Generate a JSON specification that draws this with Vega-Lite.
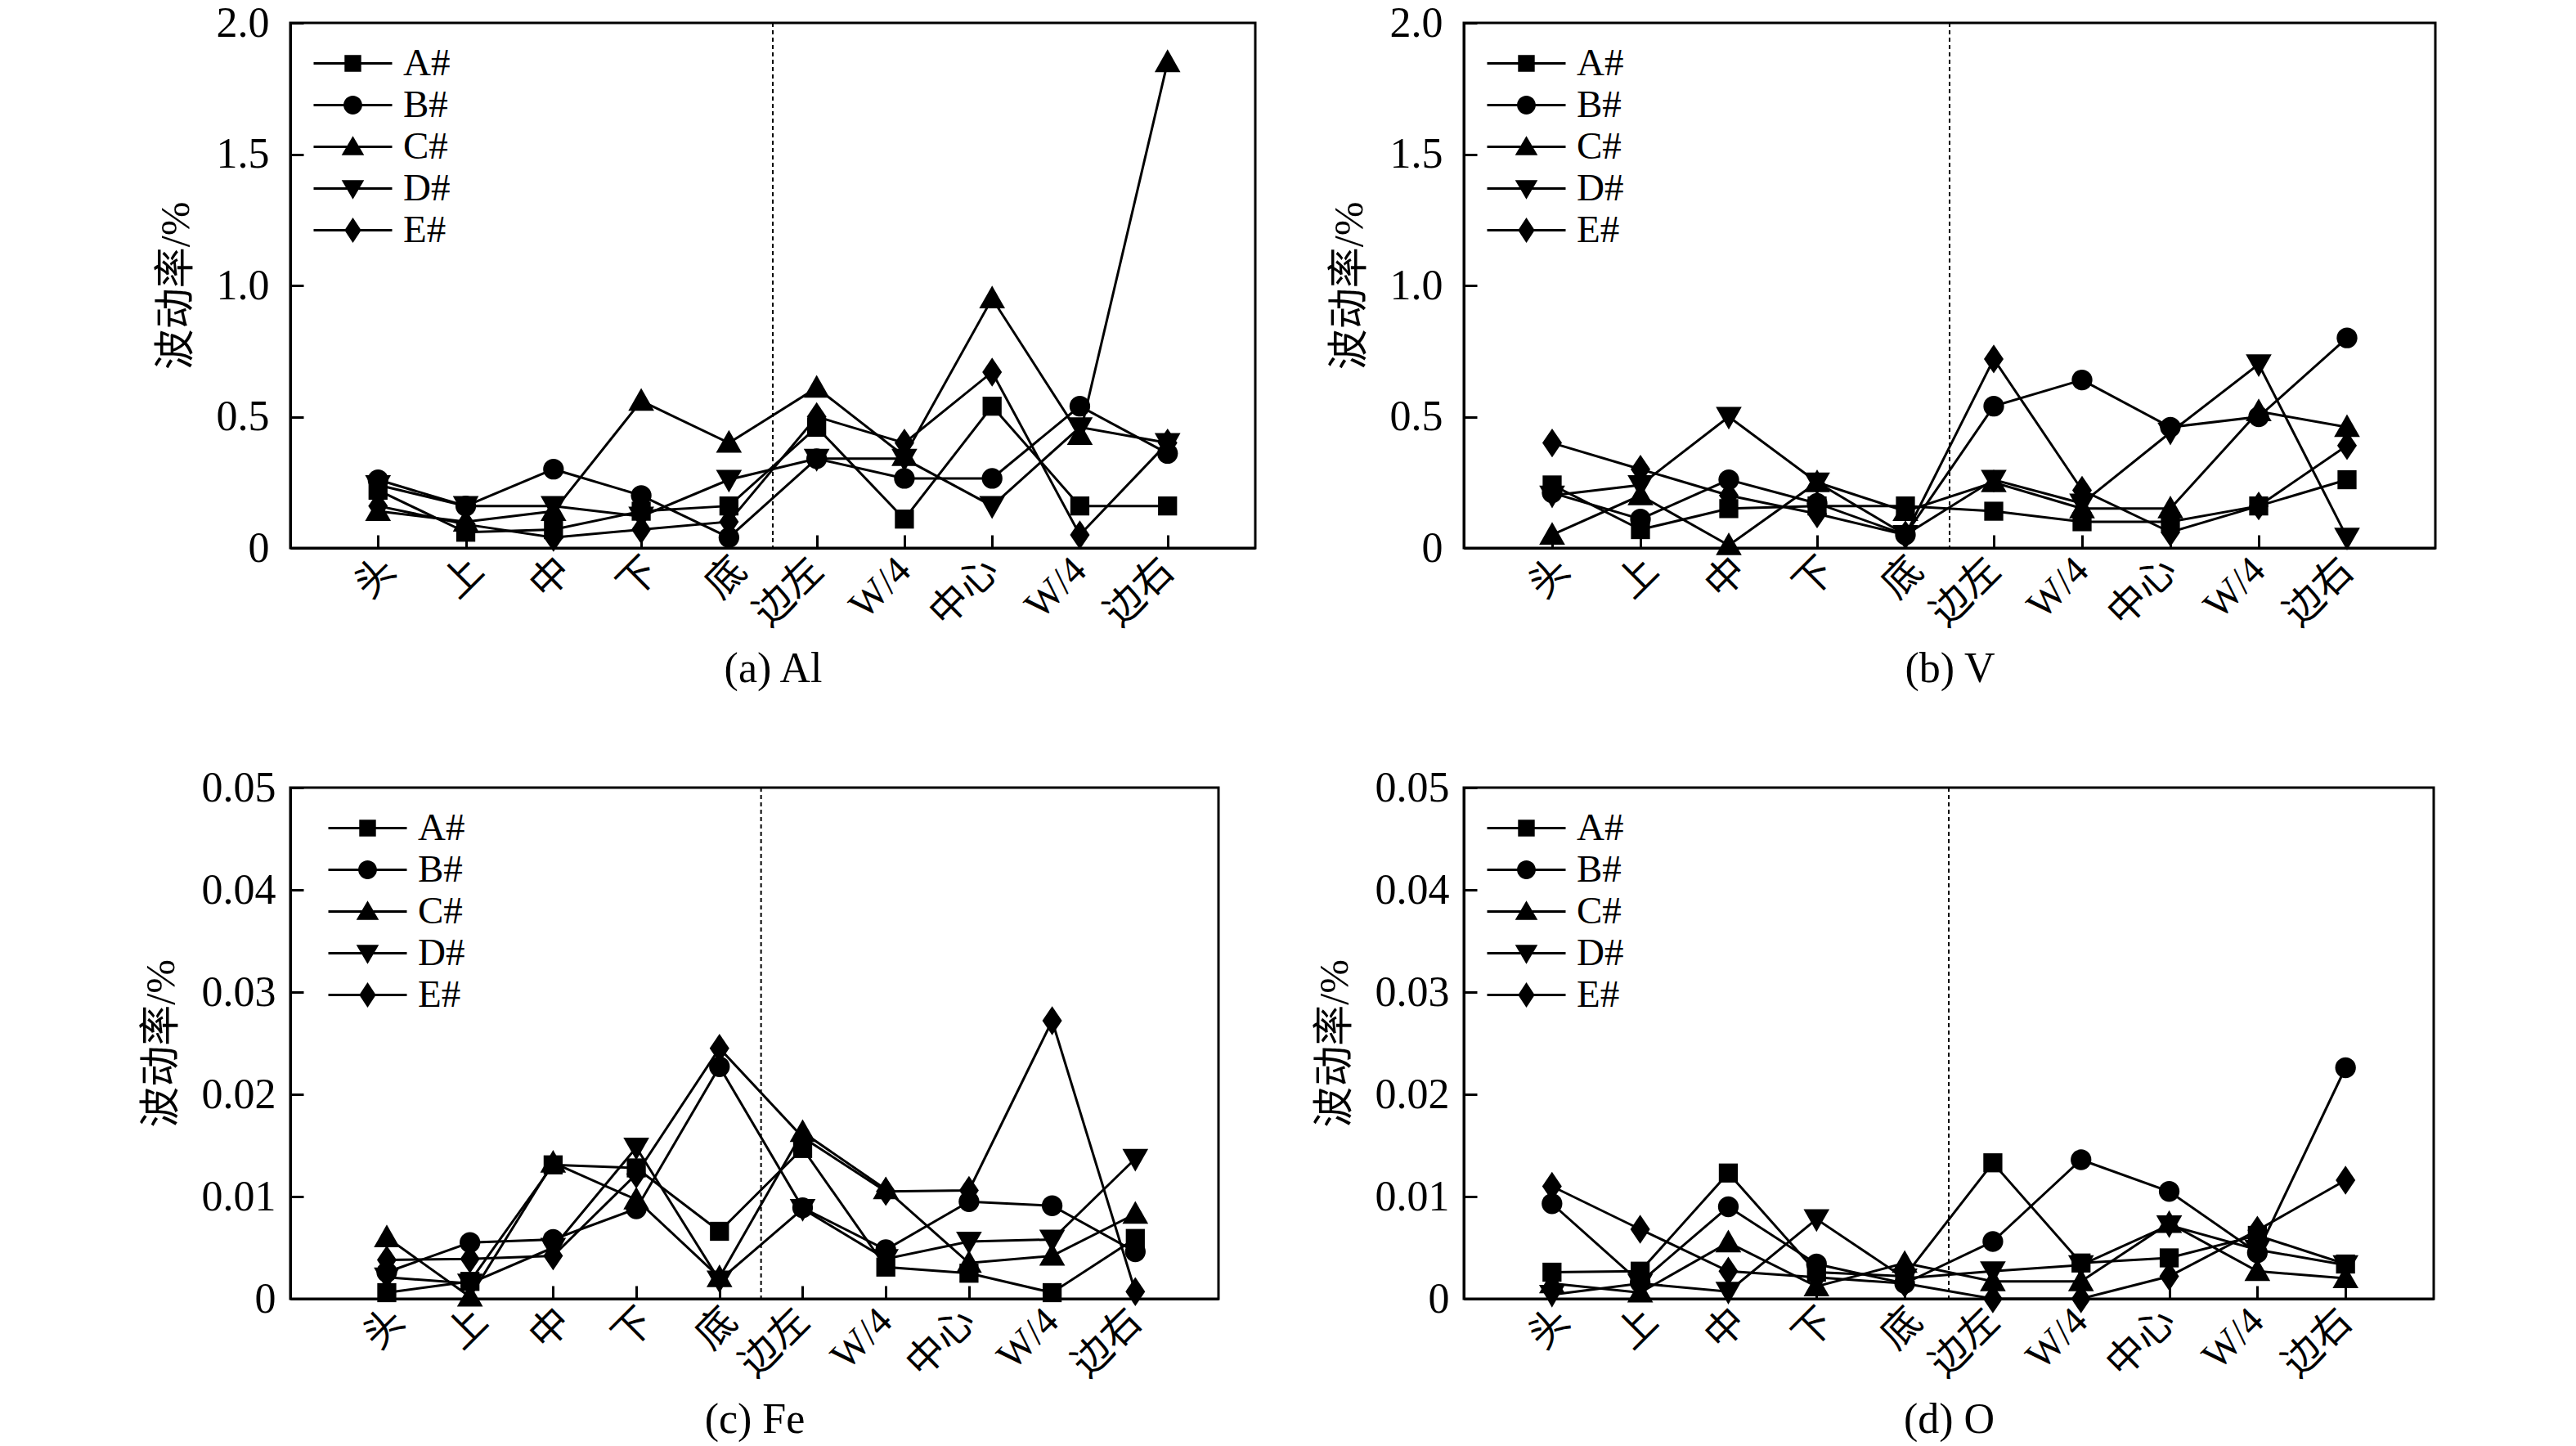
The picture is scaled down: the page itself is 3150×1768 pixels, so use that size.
{
  "$schema": "https://vega.github.io/schema/vega-lite/v6.json",
  "background": "white",
  "padding": {"left": 170, "top": 0, "right": 0, "bottom": 0},
  "datasets": {
    "divider": [{"i": 5.5}],
    "rates": [
      {"p":"a","s":"A#","i":1,"v":0.22},{"p":"a","s":"A#","i":2,"v":0.06},{"p":"a","s":"A#","i":3,"v":0.07},{"p":"a","s":"A#","i":4,"v":0.14},{"p":"a","s":"A#","i":5,"v":0.16},
      {"p":"a","s":"A#","i":6,"v":0.46},{"p":"a","s":"A#","i":7,"v":0.11},{"p":"a","s":"A#","i":8,"v":0.54},{"p":"a","s":"A#","i":9,"v":0.16},{"p":"a","s":"A#","i":10,"v":0.16},
      {"p":"a","s":"B#","i":1,"v":0.26},{"p":"a","s":"B#","i":2,"v":0.16},{"p":"a","s":"B#","i":3,"v":0.30},{"p":"a","s":"B#","i":4,"v":0.20},{"p":"a","s":"B#","i":5,"v":0.04},
      {"p":"a","s":"B#","i":6,"v":0.34},{"p":"a","s":"B#","i":7,"v":0.265},{"p":"a","s":"B#","i":8,"v":0.265},{"p":"a","s":"B#","i":9,"v":0.54},{"p":"a","s":"B#","i":10,"v":0.36},
      {"p":"a","s":"C#","i":1,"v":0.14},{"p":"a","s":"C#","i":2,"v":0.10},{"p":"a","s":"C#","i":3,"v":0.14},{"p":"a","s":"C#","i":4,"v":0.56},{"p":"a","s":"C#","i":5,"v":0.40},
      {"p":"a","s":"C#","i":6,"v":0.61},{"p":"a","s":"C#","i":7,"v":0.35},{"p":"a","s":"C#","i":8,"v":0.95},{"p":"a","s":"C#","i":9,"v":0.43},{"p":"a","s":"C#","i":10,"v":1.85},
      {"p":"a","s":"D#","i":1,"v":0.24},{"p":"a","s":"D#","i":2,"v":0.16},{"p":"a","s":"D#","i":3,"v":0.16},{"p":"a","s":"D#","i":4,"v":0.12},{"p":"a","s":"D#","i":5,"v":0.26},
      {"p":"a","s":"D#","i":6,"v":0.34},{"p":"a","s":"D#","i":7,"v":0.34},{"p":"a","s":"D#","i":8,"v":0.16},{"p":"a","s":"D#","i":9,"v":0.46},{"p":"a","s":"D#","i":10,"v":0.40},
      {"p":"a","s":"E#","i":1,"v":0.16},{"p":"a","s":"E#","i":2,"v":0.09},{"p":"a","s":"E#","i":3,"v":0.04},{"p":"a","s":"E#","i":4,"v":0.07},{"p":"a","s":"E#","i":5,"v":0.10},
      {"p":"a","s":"E#","i":6,"v":0.50},{"p":"a","s":"E#","i":7,"v":0.40},{"p":"a","s":"E#","i":8,"v":0.67},{"p":"a","s":"E#","i":9,"v":0.05},{"p":"a","s":"E#","i":10,"v":0.40},

      {"p":"b","s":"A#","i":1,"v":0.24},{"p":"b","s":"A#","i":2,"v":0.07},{"p":"b","s":"A#","i":3,"v":0.15},{"p":"b","s":"A#","i":4,"v":0.16},{"p":"b","s":"A#","i":5,"v":0.16},
      {"p":"b","s":"A#","i":6,"v":0.14},{"p":"b","s":"A#","i":7,"v":0.10},{"p":"b","s":"A#","i":8,"v":0.10},{"p":"b","s":"A#","i":9,"v":0.16},{"p":"b","s":"A#","i":10,"v":0.26},
      {"p":"b","s":"B#","i":1,"v":0.21},{"p":"b","s":"B#","i":2,"v":0.11},{"p":"b","s":"B#","i":3,"v":0.26},{"p":"b","s":"B#","i":4,"v":0.17},{"p":"b","s":"B#","i":5,"v":0.05},
      {"p":"b","s":"B#","i":6,"v":0.54},{"p":"b","s":"B#","i":7,"v":0.64},{"p":"b","s":"B#","i":8,"v":0.46},{"p":"b","s":"B#","i":9,"v":0.50},{"p":"b","s":"B#","i":10,"v":0.80},
      {"p":"b","s":"C#","i":1,"v":0.05},{"p":"b","s":"C#","i":2,"v":0.20},{"p":"b","s":"C#","i":3,"v":0.01},{"p":"b","s":"C#","i":4,"v":0.25},{"p":"b","s":"C#","i":5,"v":0.14},
      {"p":"b","s":"C#","i":6,"v":0.25},{"p":"b","s":"C#","i":7,"v":0.15},{"p":"b","s":"C#","i":8,"v":0.15},{"p":"b","s":"C#","i":9,"v":0.52},{"p":"b","s":"C#","i":10,"v":0.46},
      {"p":"b","s":"D#","i":1,"v":0.20},{"p":"b","s":"D#","i":2,"v":0.24},{"p":"b","s":"D#","i":3,"v":0.50},{"p":"b","s":"D#","i":4,"v":0.25},{"p":"b","s":"D#","i":5,"v":0.05},
      {"p":"b","s":"D#","i":6,"v":0.26},{"p":"b","s":"D#","i":7,"v":0.17},{"p":"b","s":"D#","i":8,"v":0.44},{"p":"b","s":"D#","i":9,"v":0.70},{"p":"b","s":"D#","i":10,"v":0.04},
      {"p":"b","s":"E#","i":1,"v":0.40},{"p":"b","s":"E#","i":2,"v":0.30},{"p":"b","s":"E#","i":3,"v":0.20},{"p":"b","s":"E#","i":4,"v":0.13},{"p":"b","s":"E#","i":5,"v":0.05},
      {"p":"b","s":"E#","i":6,"v":0.72},{"p":"b","s":"E#","i":7,"v":0.22},{"p":"b","s":"E#","i":8,"v":0.06},{"p":"b","s":"E#","i":9,"v":0.16},{"p":"b","s":"E#","i":10,"v":0.39},

      {"p":"c","s":"A#","i":1,"v":0.0006},{"p":"c","s":"A#","i":2,"v":0.0017},{"p":"c","s":"A#","i":3,"v":0.0131},{"p":"c","s":"A#","i":4,"v":0.0128},{"p":"c","s":"A#","i":5,"v":0.0066},
      {"p":"c","s":"A#","i":6,"v":0.0147},{"p":"c","s":"A#","i":7,"v":0.0031},{"p":"c","s":"A#","i":8,"v":0.0025},{"p":"c","s":"A#","i":9,"v":0.0006},{"p":"c","s":"A#","i":10,"v":0.0059},
      {"p":"c","s":"B#","i":1,"v":0.0026},{"p":"c","s":"B#","i":2,"v":0.0055},{"p":"c","s":"B#","i":3,"v":0.0058},{"p":"c","s":"B#","i":4,"v":0.0088},{"p":"c","s":"B#","i":5,"v":0.0227},
      {"p":"c","s":"B#","i":6,"v":0.0089},{"p":"c","s":"B#","i":7,"v":0.0048},{"p":"c","s":"B#","i":8,"v":0.0095},{"p":"c","s":"B#","i":9,"v":0.0091},{"p":"c","s":"B#","i":10,"v":0.0046},
      {"p":"c","s":"C#","i":1,"v":0.0060},{"p":"c","s":"C#","i":2,"v":0.0002},{"p":"c","s":"C#","i":3,"v":0.0133},{"p":"c","s":"C#","i":4,"v":0.0097},{"p":"c","s":"C#","i":5,"v":0.0021},
      {"p":"c","s":"C#","i":6,"v":0.0163},{"p":"c","s":"C#","i":7,"v":0.0107},{"p":"c","s":"C#","i":8,"v":0.0035},{"p":"c","s":"C#","i":9,"v":0.0042},{"p":"c","s":"C#","i":10,"v":0.0083},
      {"p":"c","s":"D#","i":1,"v":0.0021},{"p":"c","s":"D#","i":2,"v":0.0015},{"p":"c","s":"D#","i":3,"v":0.0050},{"p":"c","s":"D#","i":4,"v":0.0148},{"p":"c","s":"D#","i":5,"v":0.0018},
      {"p":"c","s":"D#","i":6,"v":0.0088},{"p":"c","s":"D#","i":7,"v":0.0039},{"p":"c","s":"D#","i":8,"v":0.0056},{"p":"c","s":"D#","i":9,"v":0.0058},{"p":"c","s":"D#","i":10,"v":0.0137},
      {"p":"c","s":"E#","i":1,"v":0.0038},{"p":"c","s":"E#","i":2,"v":0.0039},{"p":"c","s":"E#","i":3,"v":0.0042},{"p":"c","s":"E#","i":4,"v":0.0122},{"p":"c","s":"E#","i":5,"v":0.0245},
      {"p":"c","s":"E#","i":6,"v":0.0158},{"p":"c","s":"E#","i":7,"v":0.0105},{"p":"c","s":"E#","i":8,"v":0.0106},{"p":"c","s":"E#","i":9,"v":0.0272},{"p":"c","s":"E#","i":10,"v":0.0007},

      {"p":"d","s":"A#","i":1,"v":0.0026},{"p":"d","s":"A#","i":2,"v":0.0027},{"p":"d","s":"A#","i":3,"v":0.0123},{"p":"d","s":"A#","i":4,"v":0.0026},{"p":"d","s":"A#","i":5,"v":0.0022},
      {"p":"d","s":"A#","i":6,"v":0.0133},{"p":"d","s":"A#","i":7,"v":0.0035},{"p":"d","s":"A#","i":8,"v":0.0040},{"p":"d","s":"A#","i":9,"v":0.0062},{"p":"d","s":"A#","i":10,"v":0.0034},
      {"p":"d","s":"B#","i":1,"v":0.0093},{"p":"d","s":"B#","i":2,"v":0.0016},{"p":"d","s":"B#","i":3,"v":0.0090},{"p":"d","s":"B#","i":4,"v":0.0034},{"p":"d","s":"B#","i":5,"v":0.0015},
      {"p":"d","s":"B#","i":6,"v":0.0056},{"p":"d","s":"B#","i":7,"v":0.0136},{"p":"d","s":"B#","i":8,"v":0.0105},{"p":"d","s":"B#","i":9,"v":0.0045},{"p":"d","s":"B#","i":10,"v":0.0226},
      {"p":"d","s":"C#","i":1,"v":0.0015},{"p":"d","s":"C#","i":2,"v":0.0006},{"p":"d","s":"C#","i":3,"v":0.0055},{"p":"d","s":"C#","i":4,"v":0.0012},{"p":"d","s":"C#","i":5,"v":0.0035},
      {"p":"d","s":"C#","i":6,"v":0.0017},{"p":"d","s":"C#","i":7,"v":0.0017},{"p":"d","s":"C#","i":8,"v":0.0074},{"p":"d","s":"C#","i":9,"v":0.0027},{"p":"d","s":"C#","i":10,"v":0.0020},
      {"p":"d","s":"D#","i":1,"v":0.0004},{"p":"d","s":"D#","i":2,"v":0.0015},{"p":"d","s":"D#","i":3,"v":0.0007},{"p":"d","s":"D#","i":4,"v":0.0078},{"p":"d","s":"D#","i":5,"v":0.0020},
      {"p":"d","s":"D#","i":6,"v":0.0027},{"p":"d","s":"D#","i":7,"v":0.0033},{"p":"d","s":"D#","i":8,"v":0.0072},{"p":"d","s":"D#","i":9,"v":0.0048},{"p":"d","s":"D#","i":10,"v":0.0033},
      {"p":"d","s":"E#","i":1,"v":0.0110},{"p":"d","s":"E#","i":2,"v":0.0068},{"p":"d","s":"E#","i":3,"v":0.0027},{"p":"d","s":"E#","i":4,"v":0.0021},{"p":"d","s":"E#","i":5,"v":0.0015},
      {"p":"d","s":"E#","i":6,"v":0.0000},{"p":"d","s":"E#","i":7,"v":0.0000},{"p":"d","s":"E#","i":8,"v":0.0022},{"p":"d","s":"E#","i":9,"v":0.0067},{"p":"d","s":"E#","i":10,"v":0.0116}
    ]
  },
  "config": {
    "font": "Liberation Serif",
    "view": {"stroke": "black", "strokeWidth": 3},
    "axis": {
      "grid": false,
      "domainColor": "black",
      "domainWidth": 3,
      "tickColor": "black",
      "tickWidth": 3,
      "tickSize": -16,
      "labelFont": "Liberation Serif, Noto Sans CJK SC",
      "labelFontSize": 52,
      "labelColor": "black",
      "titleFont": "Liberation Serif, Noto Sans CJK SC",
      "titleFontSize": 52,
      "titleFontWeight": "normal",
      "titleColor": "black"
    },
    "axisX": {"labelAngle": -45, "labelAlign": "right", "labelBaseline": "middle", "labelPadding": 36, "labelFontSize": 48, "labelDx": 18, "titlePadding": 18, "labelFlush": false, "labelOverlap": false},
    "axisY": {"labelPadding": 42, "titlePadding": 24, "titleFontSize": 50},
    "legend": {
      "orient": "none",
      "title": null,
      "labelFont": "Liberation Serif",
      "labelFontSize": 47,
      "labelColor": "black",
      "symbolSize": 576,
      "symbolStrokeWidth": 0,
      "symbolFillColor": "black",
      "rowPadding": 3,
      "labelOffset": 38,
      "padding": 0
    }
  },
  "columns": 2,
  "bounds": "flush",
  "spacing": {"row": 293, "column": 255},
  "resolve": {"scale": {"shape": "independent"}, "legend": {"shape": "independent"}},
  "concat": [
    {
      "width": 1180,
      "height": 642,
      "encoding": {
        "x": {"field": "i", "type": "quantitative", "title": "(a) Al",
          "scale": {"domain": [0, 11], "nice": false},
          "axis": {"values": [1, 2, 3, 4, 5, 6, 7, 8, 9, 10], "labelOffset": {"condition": {"test": "datum.value <= 5", "value": 14}, "value": 0}, "labelExpr": "['', '头', '上', '中', '下', '底', '边左', 'W/4', '中心', 'W/4', '边右'][datum.value]"}}
      },
      "layer": [
        {"data": {"name": "divider"}, "mark": {"type": "rule", "color": "black", "strokeWidth": 2, "strokeDash": [5, 4]}, "encoding": {}},
        {"data": {"name": "rates"}, "transform": [{"filter": "datum.p == 'a'"}],
          "mark": {"type": "line", "color": "black", "strokeWidth": 3},
          "encoding": {
            "y": {"field": "v", "type": "quantitative", "title": "波动率/%", "scale": {"domain": [0, 2], "nice": false},
              "axis": {"values": [0, 0.5, 1, 1.5, 2], "labelExpr": "datum.value == 0 ? '0' : format(datum.value, '.1f')"}},
            "detail": {"field": "s"}}},
        {"data": {"name": "rates"}, "transform": [{"filter": "datum.p == 'a'"}],
          "mark": {"type": "point", "filled": true, "color": "black", "opacity": 1, "size": 640, "strokeWidth": 0},
          "encoding": {
            "y": {"field": "v", "type": "quantitative", "title": "波动率/%"},
            "shape": {"field": "s", "legend": null, "scale": {"domain": ["A#", "B#", "C#", "D#", "E#"], "range": [
              "M-0.92,-0.92H0.92V0.92H-0.92Z",
              "M1,0C1,0.552,0.552,1,0,1C-0.552,1,-1,0.552,-1,0C-1,-0.552,-0.552,-1,0,-1C0.552,-1,1,-0.552,1,0Z",
              "M0,-1.25L1.25,0.95L-1.25,0.95Z",
              "M0,1.25L1.25,-0.95L-1.25,-0.95Z",
              "M0,-1.4L0.95,0L0,1.4L-0.95,0Z"]}}}},
        {"data": {"name": "rates"}, "transform": [{"filter": "false"}],
          "mark": {"type": "point", "filled": true, "color": "black", "opacity": 1},
          "encoding": {
            "y": {"field": "v", "type": "quantitative", "title": "波动率/%"},
            "shape": {"field": "s", "scale": {"domain": ["A#", "B#", "C#", "D#", "E#"], "range": [
              "M-4,-0.12H4V0.12H-4ZM-0.85,-0.85H0.85V0.85H-0.85Z",
              "M-4,-0.12H4V0.12H-4ZM0.95,0C0.95,0.52,0.52,0.95,0,0.95C-0.52,0.95,-0.95,0.52,-0.95,0C-0.95,-0.52,-0.52,-0.95,0,-0.95C0.52,-0.95,0.95,-0.52,0.95,0Z",
              "M-4,-0.12H4V0.12H-4ZM0,-1.1L1.15,0.85L-1.15,0.85Z",
              "M-4,-0.12H4V0.12H-4ZM0,1.1L-1.15,-0.85L1.15,-0.85Z",
              "M-4,-0.12H4V0.12H-4ZM0,-1.3L0.85,0L0,1.3L-0.85,0Z"]},
              "legend": {"legendX": 53, "legendY": 26,
                "encode": {"symbols": {"update": {"fill": {"value": "black"}, "opacity": {"value": 1}}}}}}}}
      ],
      "resolve": {"scale": {"shape": "independent"}}
    },
    {
      "width": 1188,
      "height": 642,
      "encoding": {
        "x": {"field": "i", "type": "quantitative", "title": "(b) V",
          "scale": {"domain": [0, 11], "nice": false},
          "axis": {"values": [1, 2, 3, 4, 5, 6, 7, 8, 9, 10], "labelOffset": {"condition": {"test": "datum.value <= 5", "value": 14}, "value": 0}, "labelExpr": "['', '头', '上', '中', '下', '底', '边左', 'W/4', '中心', 'W/4', '边右'][datum.value]"}}
      },
      "layer": [
        {"data": {"name": "divider"}, "mark": {"type": "rule", "color": "black", "strokeWidth": 2, "strokeDash": [5, 4]}, "encoding": {}},
        {"data": {"name": "rates"}, "transform": [{"filter": "datum.p == 'b'"}],
          "mark": {"type": "line", "color": "black", "strokeWidth": 3},
          "encoding": {
            "y": {"field": "v", "type": "quantitative", "title": "波动率/%", "scale": {"domain": [0, 2], "nice": false},
              "axis": {"values": [0, 0.5, 1, 1.5, 2], "labelExpr": "datum.value == 0 ? '0' : format(datum.value, '.1f')"}},
            "detail": {"field": "s"}}},
        {"data": {"name": "rates"}, "transform": [{"filter": "datum.p == 'b'"}],
          "mark": {"type": "point", "filled": true, "color": "black", "opacity": 1, "size": 640, "strokeWidth": 0},
          "encoding": {
            "y": {"field": "v", "type": "quantitative", "title": "波动率/%"},
            "shape": {"field": "s", "legend": null, "scale": {"domain": ["A#", "B#", "C#", "D#", "E#"], "range": [
              "M-0.92,-0.92H0.92V0.92H-0.92Z",
              "M1,0C1,0.552,0.552,1,0,1C-0.552,1,-1,0.552,-1,0C-1,-0.552,-0.552,-1,0,-1C0.552,-1,1,-0.552,1,0Z",
              "M0,-1.25L1.25,0.95L-1.25,0.95Z",
              "M0,1.25L1.25,-0.95L-1.25,-0.95Z",
              "M0,-1.4L0.95,0L0,1.4L-0.95,0Z"]}}}},
        {"data": {"name": "rates"}, "transform": [{"filter": "false"}],
          "mark": {"type": "point", "filled": true, "color": "black", "opacity": 1},
          "encoding": {
            "y": {"field": "v", "type": "quantitative", "title": "波动率/%"},
            "shape": {"field": "s", "scale": {"domain": ["A#", "B#", "C#", "D#", "E#"], "range": [
              "M-4,-0.12H4V0.12H-4ZM-0.85,-0.85H0.85V0.85H-0.85Z",
              "M-4,-0.12H4V0.12H-4ZM0.95,0C0.95,0.52,0.52,0.95,0,0.95C-0.52,0.95,-0.95,0.52,-0.95,0C-0.95,-0.52,-0.52,-0.95,0,-0.95C0.52,-0.95,0.95,-0.52,0.95,0Z",
              "M-4,-0.12H4V0.12H-4ZM0,-1.1L1.15,0.85L-1.15,0.85Z",
              "M-4,-0.12H4V0.12H-4ZM0,1.1L-1.15,-0.85L1.15,-0.85Z",
              "M-4,-0.12H4V0.12H-4ZM0,-1.3L0.85,0L0,1.3L-0.85,0Z"]},
              "legend": {"legendX": 53, "legendY": 26,
                "encode": {"symbols": {"update": {"fill": {"value": "black"}, "opacity": {"value": 1}}}}}}}}
      ],
      "resolve": {"scale": {"shape": "independent"}}
    },
    {
      "width": 1135,
      "height": 625,
      "encoding": {
        "x": {"field": "i", "type": "quantitative", "title": "(c) Fe",
          "scale": {"domain": [-0.16, 11], "nice": false},
          "axis": {"values": [1, 2, 3, 4, 5, 6, 7, 8, 9, 10], "labelOffset": {"condition": {"test": "datum.value <= 5", "value": 14}, "value": 0}, "labelExpr": "['', '头', '上', '中', '下', '底', '边左', 'W/4', '中心', 'W/4', '边右'][datum.value]"}}
      },
      "layer": [
        {"data": {"name": "divider"}, "mark": {"type": "rule", "color": "black", "strokeWidth": 2, "strokeDash": [5, 4]}, "encoding": {}},
        {"data": {"name": "rates"}, "transform": [{"filter": "datum.p == 'c'"}],
          "mark": {"type": "line", "color": "black", "strokeWidth": 3},
          "encoding": {
            "y": {"field": "v", "type": "quantitative", "title": "波动率/%", "scale": {"domain": [0, 0.05], "nice": false},
              "axis": {"values": [0, 0.01, 0.02, 0.03, 0.04, 0.05], "labelPadding": 34, "labelExpr": "datum.value == 0 ? '0' : format(datum.value, '.2f')"}},
            "detail": {"field": "s"}}},
        {"data": {"name": "rates"}, "transform": [{"filter": "datum.p == 'c'"}],
          "mark": {"type": "point", "filled": true, "color": "black", "opacity": 1, "size": 640, "strokeWidth": 0},
          "encoding": {
            "y": {"field": "v", "type": "quantitative", "title": "波动率/%"},
            "shape": {"field": "s", "legend": null, "scale": {"domain": ["A#", "B#", "C#", "D#", "E#"], "range": [
              "M-0.92,-0.92H0.92V0.92H-0.92Z",
              "M1,0C1,0.552,0.552,1,0,1C-0.552,1,-1,0.552,-1,0C-1,-0.552,-0.552,-1,0,-1C0.552,-1,1,-0.552,1,0Z",
              "M0,-1.25L1.25,0.95L-1.25,0.95Z",
              "M0,1.25L1.25,-0.95L-1.25,-0.95Z",
              "M0,-1.4L0.95,0L0,1.4L-0.95,0Z"]}}}},
        {"data": {"name": "rates"}, "transform": [{"filter": "false"}],
          "mark": {"type": "point", "filled": true, "color": "black", "opacity": 1},
          "encoding": {
            "y": {"field": "v", "type": "quantitative", "title": "波动率/%"},
            "shape": {"field": "s", "scale": {"domain": ["A#", "B#", "C#", "D#", "E#"], "range": [
              "M-4,-0.12H4V0.12H-4ZM-0.85,-0.85H0.85V0.85H-0.85Z",
              "M-4,-0.12H4V0.12H-4ZM0.95,0C0.95,0.52,0.52,0.95,0,0.95C-0.52,0.95,-0.95,0.52,-0.95,0C-0.95,-0.52,-0.52,-0.95,0,-0.95C0.52,-0.95,0.95,-0.52,0.95,0Z",
              "M-4,-0.12H4V0.12H-4ZM0,-1.1L1.15,0.85L-1.15,0.85Z",
              "M-4,-0.12H4V0.12H-4ZM0,1.1L-1.15,-0.85L1.15,-0.85Z",
              "M-4,-0.12H4V0.12H-4ZM0,-1.3L0.85,0L0,1.3L-0.85,0Z"]},
              "legend": {"legendX": 71, "legendY": 26,
                "encode": {"symbols": {"update": {"fill": {"value": "black"}, "opacity": {"value": 1}}}}}}}}
      ],
      "resolve": {"scale": {"shape": "independent"}}
    },
    {
      "width": 1186,
      "height": 625,
      "encoding": {
        "x": {"field": "i", "type": "quantitative", "title": "(d) O",
          "scale": {"domain": [0, 11], "nice": false},
          "axis": {"values": [1, 2, 3, 4, 5, 6, 7, 8, 9, 10], "labelOffset": {"condition": {"test": "datum.value <= 5", "value": 14}, "value": 0}, "labelExpr": "['', '头', '上', '中', '下', '底', '边左', 'W/4', '中心', 'W/4', '边右'][datum.value]"}}
      },
      "layer": [
        {"data": {"name": "divider"}, "mark": {"type": "rule", "color": "black", "strokeWidth": 2, "strokeDash": [5, 4]}, "encoding": {}},
        {"data": {"name": "rates"}, "transform": [{"filter": "datum.p == 'd'"}],
          "mark": {"type": "line", "color": "black", "strokeWidth": 3},
          "encoding": {
            "y": {"field": "v", "type": "quantitative", "title": "波动率/%", "scale": {"domain": [0, 0.05], "nice": false},
              "axis": {"values": [0, 0.01, 0.02, 0.03, 0.04, 0.05], "labelPadding": 34, "labelExpr": "datum.value == 0 ? '0' : format(datum.value, '.2f')"}},
            "detail": {"field": "s"}}},
        {"data": {"name": "rates"}, "transform": [{"filter": "datum.p == 'd'"}],
          "mark": {"type": "point", "filled": true, "color": "black", "opacity": 1, "size": 640, "strokeWidth": 0},
          "encoding": {
            "y": {"field": "v", "type": "quantitative", "title": "波动率/%"},
            "shape": {"field": "s", "legend": null, "scale": {"domain": ["A#", "B#", "C#", "D#", "E#"], "range": [
              "M-0.92,-0.92H0.92V0.92H-0.92Z",
              "M1,0C1,0.552,0.552,1,0,1C-0.552,1,-1,0.552,-1,0C-1,-0.552,-0.552,-1,0,-1C0.552,-1,1,-0.552,1,0Z",
              "M0,-1.25L1.25,0.95L-1.25,0.95Z",
              "M0,1.25L1.25,-0.95L-1.25,-0.95Z",
              "M0,-1.4L0.95,0L0,1.4L-0.95,0Z"]}}}},
        {"data": {"name": "rates"}, "transform": [{"filter": "false"}],
          "mark": {"type": "point", "filled": true, "color": "black", "opacity": 1},
          "encoding": {
            "y": {"field": "v", "type": "quantitative", "title": "波动率/%"},
            "shape": {"field": "s", "scale": {"domain": ["A#", "B#", "C#", "D#", "E#"], "range": [
              "M-4,-0.12H4V0.12H-4ZM-0.85,-0.85H0.85V0.85H-0.85Z",
              "M-4,-0.12H4V0.12H-4ZM0.95,0C0.95,0.52,0.52,0.95,0,0.95C-0.52,0.95,-0.95,0.52,-0.95,0C-0.95,-0.52,-0.52,-0.95,0,-0.95C0.52,-0.95,0.95,-0.52,0.95,0Z",
              "M-4,-0.12H4V0.12H-4ZM0,-1.1L1.15,0.85L-1.15,0.85Z",
              "M-4,-0.12H4V0.12H-4ZM0,1.1L-1.15,-0.85L1.15,-0.85Z",
              "M-4,-0.12H4V0.12H-4ZM0,-1.3L0.85,0L0,1.3L-0.85,0Z"]},
              "legend": {"legendX": 53, "legendY": 26,
                "encode": {"symbols": {"update": {"fill": {"value": "black"}, "opacity": {"value": 1}}}}}}}}
      ],
      "resolve": {"scale": {"shape": "independent"}}
    }
  ]
}
